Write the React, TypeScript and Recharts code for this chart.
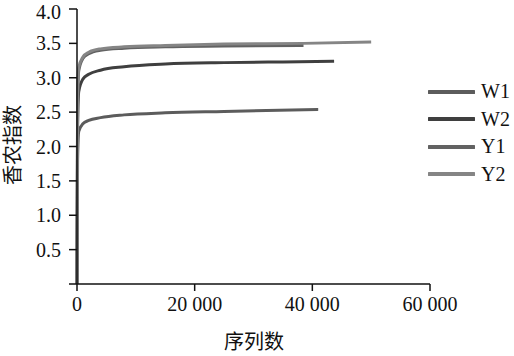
import React from 'react';
import { LineChart, Line, XAxis, YAxis, Legend } from 'recharts';

// sequencing depth (x) and Shannon index (y)
const w1Depth = [0, 100, 300, 1000, 2000, 4000, 8000, 15000, 25000, 41000];
const w1Shannon = [0, 1.8, 2.22, 2.33, 2.38, 2.42, 2.46, 2.49, 2.51, 2.54];

const w2Depth = [0, 100, 300, 1000, 2000, 4000, 8000, 15000, 25000, 35000, 43700];
const w2Shannon = [0, 2.3, 2.8, 2.98, 3.05, 3.11, 3.16, 3.2, 3.22, 3.23, 3.24];

const y1Depth = [0, 100, 300, 1000, 2000, 4000, 8000, 15000, 25000, 38500];
const y1Shannon = [0, 2.6, 3.1, 3.28, 3.35, 3.4, 3.43, 3.45, 3.46, 3.47];

const y2Depth = [0, 100, 300, 1000, 2000, 4000, 8000, 15000, 25000, 38500, 50000];
const y2Shannon = [0, 2.7, 3.15, 3.3, 3.37, 3.42, 3.45, 3.47, 3.49, 3.5, 3.52];

const xTicks = [0, 20000, 40000, 60000];
const yTicks = [0, 0.5, 1.0, 1.5, 2.0, 2.5, 3.0, 3.5, 4.0];

const toPoints = (xs: number[], ys: number[]) => xs.map((x, i) => ({ x, y: ys[i] }));

const SERIES = [
    { name: 'W1', data: toPoints(w1Depth, w1Shannon), color: '#5c5c5c' },
    { name: 'W2', data: toPoints(w2Depth, w2Shannon), color: '#3f3f3f' },
    { name: 'Y1', data: toPoints(y1Depth, y1Shannon), color: '#626262' },
    { name: 'Y2', data: toPoints(y2Depth, y2Shannon), color: '#858585' },
];

const SERIF = '"Liberation Serif", "Times New Roman", serif';
const CJK = '"Noto Sans CJK SC", sans-serif';

const fmtX = (v: number) => (v === 0 ? '0' : `${v / 1000} 000`);
const fmtY = (v: number) => (v === 0 ? '' : v.toFixed(1));

const LegendRenderer = (props: any) => {
    const { payload } = props || {};
    if (!payload) return null;
    return (
        <div style={{ display: 'flex', flexDirection: 'column' }}>
            {payload.map((entry: any) => (
                <div key={entry.value} style={{ display: 'flex', alignItems: 'center', height: 27.5 }}>
                    <svg width="47" height="6" style={{ marginRight: 6 }}>
                        <line x1="1" y1="3" x2="46" y2="3" stroke={entry.color} strokeWidth={4} strokeLinecap="round" />
                    </svg>
                    <span style={{ fontFamily: SERIF, fontSize: 20, color: '#111' }}>{entry.value}</span>
                </div>
            ))}
        </div>
    );
};

const App = () => {
    return (
        <div style={{ position: 'absolute', left: 0, top: 0, width: 514, height: 356, background: '#fff' }}>
            <LineChart width={514} height={356} margin={{ top: 9, right: 84, left: 0, bottom: 0 }}>
                <XAxis
                    type="number"
                    dataKey="x"
                    domain={[0, 60000]}
                    ticks={xTicks}
                    tickFormatter={fmtX}
                    height={72}
                    tickSize={7}
                    tickMargin={6}
                    stroke="#111"
                    strokeWidth={1.5}
                    tick={{ fontFamily: SERIF, fontSize: 20, fill: '#111' }}
                    allowDuplicatedCategory={false}
                    label={{
                        content: () => (
                            <text x={254} y={349} textAnchor="middle" fontFamily={CJK} fontSize={20} fill="#111">
                                序列数
                            </text>
                        ),
                    }}
                />
                <YAxis
                    type="number"
                    dataKey="y"
                    domain={[0, 4]}
                    ticks={yTicks}
                    tickFormatter={fmtY}
                    width={77}
                    tickSize={8}
                    tickMargin={8}
                    stroke="#111"
                    strokeWidth={1.5}
                    tick={{ fontFamily: SERIF, fontSize: 20, fill: '#111' }}
                    label={{
                        content: () => (
                            <text
                                x={20}
                                y={145}
                                transform="rotate(-90 20 145)"
                                textAnchor="middle"
                                fontFamily={CJK}
                                fontSize={20}
                                fill="#111"
                            >
                                香农指数
                            </text>
                        ),
                    }}
                />
                <Legend
                    layout="vertical"
                    align="center"
                    verticalAlign="middle"
                    content={LegendRenderer}
                    wrapperStyle={{ left: 428, top: 78, width: 86 }}
                />
                {SERIES.map((s) => (
                    <Line
                        key={s.name}
                        name={s.name}
                        data={s.data}
                        dataKey="y"
                        type="monotone"
                        stroke={s.color}
                        strokeWidth={3}
                        dot={false}
                        isAnimationActive={false}
                    />
                ))}
            </LineChart>
        </div>
    );
};

export default App;
